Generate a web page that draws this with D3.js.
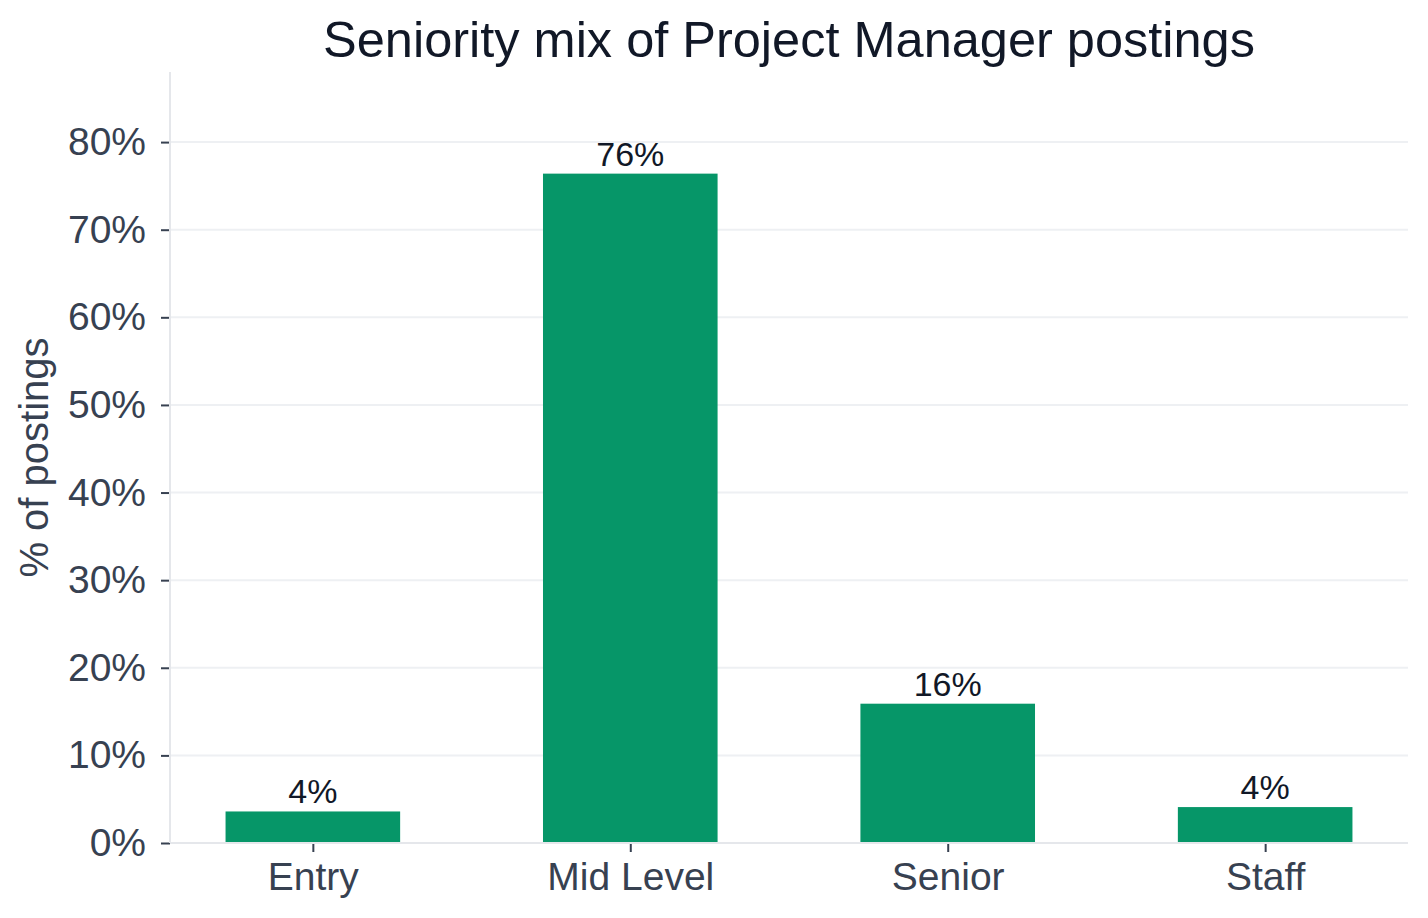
<!DOCTYPE html>
<html>
<head>
<meta charset="utf-8">
<script src="https://cdn.jsdelivr.net/npm/d3@7"></script>
<style>
  html, body { margin: 0; padding: 0; background: #fff; }
  svg { display: block; font-family: "Liberation Sans", Arial, Helvetica, sans-serif; }
</style>
</head>
<body>
<svg id="chart" width="1428" height="918"></svg>
<script>
const categories = ["Entry", "Mid Level", "Senior", "Staff"];
const shares = [3.6, 76.4, 15.9, 4.1];
const yTicks = [0, 10, 20, 30, 40, 50, 60, 70, 80];

const svg = d3.select("#chart");
const plot = { left: 170, right: 1408, top: 72, bottom: 843 };

const x = d3.scalePoint()
  .domain(categories)
  .range([plot.left, plot.right])
  .padding(0.45);
const barW = x.step() * 0.55;

const y = d3.scaleLinear()
  .domain([0, 88])
  .range([plot.bottom, plot.top]);

// grid
svg.append("g")
  .selectAll("line")
  .data(yTicks)
  .join("line")
  .attr("x1", plot.left)
  .attr("x2", plot.right)
  .attr("y1", d => y(d))
  .attr("y2", d => y(d))
  .style("stroke", "#eef0f3")
  .style("stroke-width", 2);

// bars
svg.append("g")
  .selectAll("rect")
  .data(categories)
  .join("rect")
  .attr("x", d => x(d) - barW / 2)
  .attr("y", (d, i) => y(shares[i]))
  .attr("width", barW)
  .attr("height", (d, i) => y(0) - y(shares[i]))
  .style("fill", "#069668");

// value labels
svg.append("g")
  .selectAll("text")
  .data(categories)
  .join("text")
  .attr("x", d => x(d))
  .attr("y", (d, i) => y(shares[i]) - 8)
  .attr("text-anchor", "middle")
  .style("font-size", "34px")
  .style("fill", "#111827")
  .text((d, i) => `${Math.round(shares[i])}%`);

// y axis
const yAxis = svg.append("g")
  .attr("transform", `translate(${plot.left},0)`)
  .call(d3.axisLeft(y).tickValues(yTicks).tickFormat(d => `${d}%`).tickSize(9).tickPadding(15));
yAxis.select(".domain").remove();
yAxis.append("line")
  .attr("y1", plot.top).attr("y2", plot.bottom)
  .style("stroke", "#e5e7eb").style("stroke-width", 2);
yAxis.selectAll(".tick line").style("stroke", "#374151").style("stroke-width", 2);
yAxis.selectAll(".tick text")
  .style("font-size", "39px")
  .style("fill", "#374151")
  .style("font-family", "inherit");

// x axis
const xAxis = svg.append("g")
  .attr("transform", `translate(0,${plot.bottom})`)
  .call(d3.axisBottom(x).tickSize(9).tickPadding(10));
xAxis.select(".domain").remove();
xAxis.append("line")
  .attr("x1", plot.left).attr("x2", plot.right)
  .style("stroke", "#e5e7eb").style("stroke-width", 2);
xAxis.selectAll(".tick line").style("stroke", "#374151").style("stroke-width", 2);
xAxis.selectAll(".tick text")
  .style("font-size", "39px")
  .style("fill", "#374151")
  .style("font-family", "inherit");

// y label
svg.append("text")
  .attr("transform", `translate(48,${(plot.top + plot.bottom) / 2}) rotate(-90)`)
  .attr("text-anchor", "middle")
  .style("font-size", "40px")
  .style("fill", "#374151")
  .text("% of postings");

// title
svg.append("text")
  .attr("x", 789)
  .attr("y", 57)
  .attr("text-anchor", "middle")
  .style("font-size", "50.5px")
  .style("fill", "#111827")
  .text("Seniority mix of Project Manager postings");
</script>
</body>
</html>
